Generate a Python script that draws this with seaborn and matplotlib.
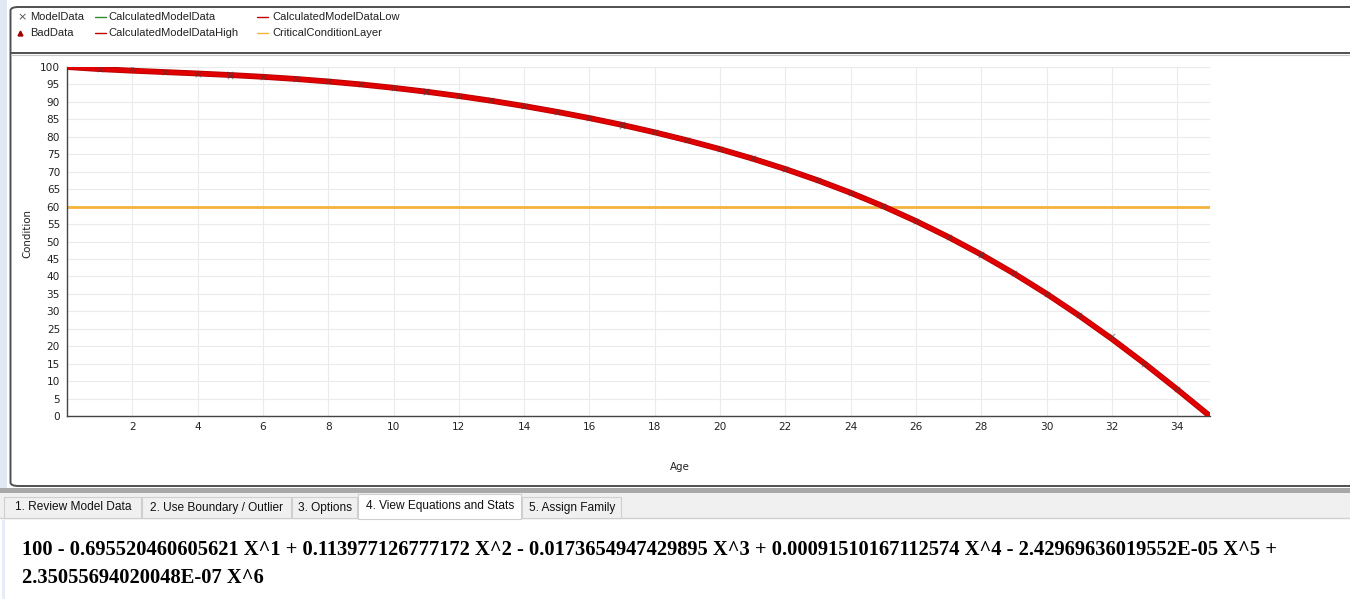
import matplotlib
matplotlib.use("Agg")
import matplotlib.pyplot as plt
from matplotlib.patches import Rectangle, FancyBboxPatch
from matplotlib.lines import Line2D
import seaborn as sns
import pandas as pd

# ---- data -------------------------------------------------------------
model_ages = [1, 2, 3, 4, 5, 5, 6, 7, 8, 9, 10, 11, 11, 12, 13, 14, 15, 16,
              17, 17, 18, 19, 20, 21, 22, 23, 24, 25, 26, 27, 28, 28, 29, 30,
              31, 32, 33, 34]
model_condition = [99.5, 99.6, 98.6, 98.0, 97.9, 97.5, 97.1, 96.6, 95.9, 95.0,
                   94.1, 93.1, 92.7, 91.7, 90.5, 88.9, 87.2, 85.4, 83.6, 83.2,
                   81.3, 79.1, 76.4, 73.8, 70.8, 67.5, 64.0, 60.1, 56.0, 51.3,
                   46.4, 46.0, 40.9, 35.0, 28.8, 22.8, 15.0, 7.6]

curve_ages = list(range(0, 36))
curve_condition = [100.00, 99.40, 98.94, 98.54, 98.14, 97.70, 97.19, 96.58,
                   95.85, 95.01, 94.03, 92.93, 91.69, 90.32, 88.81, 87.16,
                   85.36, 83.41, 81.28, 78.97, 76.47, 73.73, 70.76, 67.51,
                   63.96, 60.09, 55.86, 51.26, 46.26, 40.85, 35.02, 28.76,
                   22.10, 15.04, 7.63, 0.00]

critical_level = 60

y_ticks = list(range(0, 101, 5))
x_ticks = list(range(2, 35, 2))

legend_row1 = ["ModelData", "CalculatedModelData", "CalculatedModelDataLow"]
legend_row2 = ["BadData", "CalculatedModelDataHigh", "CriticalConditionLayer"]

tab_labels = ["1. Review Model Data", "2. Use Boundary / Outlier", "3. Options",
              "4. View Equations and Stats", "5. Assign Family"]
selected_tab = 3

equation_lines = [
    "100 - 0.695520460605621 X^1 + 0.113977126777172 X^2 - 0.0173654947429895 X^3"
    " + 0.00091510167112574 X^4 - 2.42969636019552E-05 X^5 +",
    "2.35055694020048E-07 X^6",
]

# ---- figure -----------------------------------------------------------
W, H = 1350, 599
sns.set_style("white")
plt.rcParams["font.family"] = ["DejaVu Sans"]
fig = plt.figure(figsize=(W / 100, H / 100), dpi=100)
fig.patch.set_facecolor("white")


def fx(px):
    return px / W


def fy(py):
    return 1 - py / H


# window chrome: left strip, panel frame, tab strip
fig.add_artist(Rectangle((0, fy(490)), fx(7), 1 - fy(490), transform=fig.transFigure,
                         facecolor="#dfe8f3", edgecolor="none", zorder=0))
fig.add_artist(Rectangle((fx(2), 0), fx(3), fy(520), transform=fig.transFigure,
                         facecolor="#e6edf6", edgecolor="none", zorder=0))
fig.add_artist(FancyBboxPatch((fx(10.5), fy(486)), fx(1400), fy(7) - fy(486),
                              boxstyle="round,pad=0,rounding_size=0.006",
                              transform=fig.transFigure, facecolor="white",
                              edgecolor="#505050", linewidth=1.4, zorder=0.5))
fig.add_artist(Line2D([fx(10.5), 1], [fy(53), fy(53)], transform=fig.transFigure,
                      color="#505050", linewidth=1.4, zorder=1))
fig.add_artist(Line2D([fx(10.5), 1], [fy(54.5), fy(54.5)], transform=fig.transFigure,
                      color="#c8c8c8", linewidth=0.8, zorder=1))
fig.add_artist(Rectangle((0, fy(493)), 1, fy(488) - fy(493), transform=fig.transFigure,
                         facecolor="#a8a8a8", edgecolor="none", zorder=0.6))
fig.add_artist(Rectangle((0, fy(518)), 1, fy(493) - fy(518), transform=fig.transFigure,
                         facecolor="#f0f0f0", edgecolor="none", zorder=0.6))
fig.add_artist(Line2D([0, 1], [fy(518), fy(518)], transform=fig.transFigure,
                      color="#d0d0d0", linewidth=1, zorder=0.7))

# tabs
tab_edges = [4, 142, 292, 358, 522, 622]
for i, label in enumerate(tab_labels):
    x0, x1 = tab_edges[i], tab_edges[i + 1]
    top = 494 if i == selected_tab else 497
    bottom = 519 if i == selected_tab else 518
    face = "white" if i == selected_tab else "#f0f0f0"
    fig.add_artist(Rectangle((fx(x0), fy(bottom)), fx(x1 - x0 - 1), fy(top) - fy(bottom),
                             transform=fig.transFigure, facecolor=face,
                             edgecolor="#cfcfcf", linewidth=0.8, zorder=0.8))
    fig.text(fx((x0 + x1) / 2), fy(507.5 if i != selected_tab else 506), label,
             ha="center", va="center", fontsize=8.6, family="Liberation Sans",
             color="#111111", zorder=2)

# equation text
for k, line in enumerate(equation_lines):
    fig.text(fx(22), fy(550 + 28 * k), line, ha="left", va="center",
             fontsize=14.8, family="Liberation Serif", fontweight="bold",
             color="black")

# ---- chart ------------------------------------------------------------
ax_left, ax_right, ax_top, ax_bottom = 67, 1209.8, 67, 416
ax = fig.add_axes([fx(ax_left), fy(ax_bottom), fx(ax_right - ax_left),
                   fy(ax_top) - fy(ax_bottom)])
ax.set_zorder(3)
ax.set_facecolor("none")

curve_df = pd.DataFrame({"Age": curve_ages, "Condition": curve_condition})
model_df = pd.DataFrame({"Age": model_ages, "Condition": model_condition})

ax.axhline(critical_level, color="#f4b43c", linewidth=2.0, zorder=2)
sns.lineplot(data=curve_df, x="Age", y="Condition", ax=ax, color="#2e8b2e",
             linewidth=1.0, zorder=3)
sns.lineplot(data=curve_df, x="Age", y="Condition", ax=ax, color="#b80000",
             linewidth=4.2, zorder=4, solid_capstyle="round")
sns.lineplot(data=curve_df, x="Age", y="Condition", ax=ax, color="#e00000",
             linewidth=3.0, zorder=5, solid_capstyle="round")
sns.scatterplot(data=model_df, x="Age", y="Condition", ax=ax, marker="x",
                color="#404040", s=16, linewidth=0.7, alpha=0.6, zorder=6)

ax.set_xlim(0, 35)
ax.set_ylim(0, 100)
ax.set_xticks(x_ticks)
ax.set_yticks(y_ticks)
ax.grid(True, color="#ebebeb", linewidth=0.8, zorder=0)
ax.set_axisbelow(True)
for side in ("top", "right"):
    ax.spines[side].set_visible(False)
for side in ("left", "bottom"):
    ax.spines[side].set_color("#444444")
    ax.spines[side].set_linewidth(1.0)
ax.tick_params(axis="both", length=0, labelsize=7.6, labelcolor="#222222")
ax.tick_params(axis="x", pad=4)
ax.tick_params(axis="y", pad=5)
ax.set_xlabel("Age", fontsize=7.4, color="#222222")
ax.set_ylabel("Condition", fontsize=7.4, color="#222222")
ax.xaxis.set_label_coords((680 - ax_left) / (ax_right - ax_left),
                          -(467 - ax_bottom) / (ax_bottom - ax_top))
ax.xaxis.label.set_va("center")
ax.yaxis.set_label_coords(-(ax_left - 27) / (ax_right - ax_left),
                          (ax_bottom - 233) / (ax_bottom - ax_top))
ax.yaxis.label.set_va("center")

# ---- legend -----------------------------------------------------------
legend_font = dict(fontsize=8, family="Liberation Sans", color="#222222",
                   va="center", ha="left", zorder=5)
row_y = [17, 33]
col_line = [95, 257]
col_text = [30, 108, 272]
fig.text(fx(17), fy(row_y[0]), "\u00d7", fontsize=8, color="#555555", va="center",
         ha="left", family="DejaVu Sans", zorder=5)
fig.add_artist(Line2D([fx(20)], [fy(row_y[1] - 0.5)], transform=fig.transFigure,
                      marker="^", markersize=3.5, color="#a00000",
                      linestyle="none", zorder=5))
legend_colors = [["#2e8b2e", "#c00000"], ["#c00000", "#f4b43c"]]
for r, labels in enumerate([legend_row1, legend_row2]):
    fig.text(fx(col_text[0]), fy(row_y[r]), labels[0], **legend_font)
    for c in range(2):
        fig.add_artist(Line2D([fx(col_line[c]), fx(col_line[c] + 11)],
                              [fy(row_y[r]), fy(row_y[r])],
                              transform=fig.transFigure,
                              color=legend_colors[r][c], linewidth=1.0, zorder=5))
        fig.text(fx(col_text[c + 1]), fy(row_y[r]), labels[c + 1], **legend_font)

fig.savefig("out.png", dpi=100, facecolor="white")
